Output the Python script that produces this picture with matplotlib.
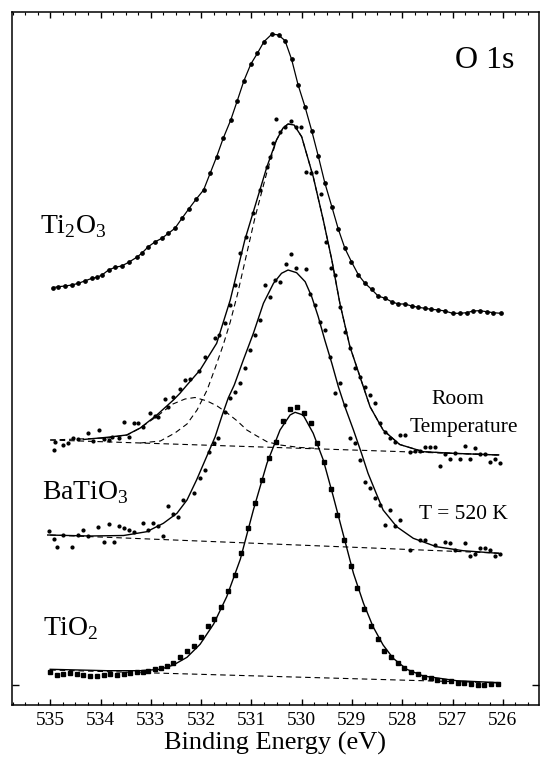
import matplotlib
matplotlib.use("Agg")
import matplotlib.pyplot as plt
from matplotlib.ticker import MultipleLocator, FixedLocator
import numpy as np

plt.rcParams['font.family'] = ['Liberation Serif', 'DejaVu Serif']
plt.rcParams['mathtext.fontset'] = 'custom'
plt.rcParams['mathtext.rm'] = 'Liberation Serif'

# ---------------- O 1s spectra (binding energy in eV, intensity in arb. units, offset) ----------------
# Ti2O3 measured spectrum
ti2o3_E = [534.95, 534.84, 534.70, 534.57, 534.44, 534.30, 534.17, 534.07, 533.97, 533.84,
           533.71, 533.58, 533.44, 533.28, 533.18, 533.05, 532.91, 532.78, 532.65, 532.52,
           532.38, 532.25, 532.10, 531.95, 531.82, 531.69, 531.56, 531.41, 531.28, 531.15,
           531.01, 530.88, 530.75, 530.59, 530.46, 530.33, 530.20, 530.07, 529.93, 529.80,
           529.67, 529.54, 529.40, 529.27, 529.14, 529.01, 528.87, 528.74, 528.61, 528.48,
           528.34, 528.21, 528.08, 527.95, 527.81, 527.68, 527.55, 527.42, 527.28, 527.15,
           527.00, 526.85, 526.72, 526.59, 526.46, 526.32, 526.19, 526.04]
ti2o3_I = [396.3, 397.3, 398.0, 399.0, 400.7, 403.3, 405.7, 406.7, 409.0, 414.0,
           416.7, 418.0, 421.7, 426.7, 430.7, 437.3, 442.3, 445.7, 450.7, 455.7,
           465.7, 474.7, 484.7, 494.0, 510.7, 527.3, 545.7, 564.0, 583.3, 603.0,
           620.0, 630.7, 642.3, 650.0, 649.0, 643.3, 624.7, 599.0, 576.7, 553.3,
           528.0, 501.3, 477.3, 454.7, 435.7, 422.3, 409.0, 400.7, 394.7, 388.0,
           385.7, 382.3, 380.0, 380.0, 378.0, 376.7, 375.7, 374.7, 374.0, 373.0,
           370.7, 370.7, 371.3, 373.0, 373.3, 372.3, 371.3, 370.7]

# BaTiO3, room temperature: data points
bto_rt_E = [534.93, 534.90, 534.74, 534.64, 534.54, 534.44, 534.24, 534.14, 534.02, 533.94,
            533.84, 533.77, 533.64, 533.54, 533.44, 533.34, 533.25, 533.15, 533.01, 532.91,
            532.85, 532.72, 532.65, 532.55, 532.42, 532.32, 532.22, 532.05, 531.92, 531.72,
            531.64, 531.52, 531.42, 531.32, 531.22, 531.11, 530.96, 530.83, 530.69, 530.63,
            530.56, 530.51, 530.43, 530.33, 530.21, 530.11, 530.01, 529.91, 529.81, 529.72,
            529.62, 529.52, 529.42, 529.34, 529.24, 529.14, 529.04, 528.94, 528.84, 528.74,
            528.64, 528.54, 528.44, 528.34, 528.24, 528.15, 528.05, 527.95, 527.85, 527.75,
            527.65, 527.55, 527.45, 527.35, 527.25, 527.15, 527.05, 526.95, 526.85, 526.75,
            526.65, 526.56, 526.46, 526.36, 526.26, 526.16, 526.06]
bto_rt_I = [234.0, 242.3, 239.0, 240.7, 245.7, 244.7, 251.3, 243.3, 254.0, 244.7,
            244.0, 246.7, 245.7, 262.3, 247.3, 260.7, 261.3, 257.3, 270.7, 268.0,
            266.7, 284.7, 277.3, 287.3, 294.7, 304.0, 304.7, 313.3, 326.7, 345.7,
            349.0, 360.7, 379.0, 399.0, 430.7, 447.3, 470.7, 494.0, 517.3, 527.3,
            540.7, 565.0, 552.3, 556.7, 563.5, 557.5, 557.3, 512.5, 510.7, 512.5,
            490.5, 442.3, 415.7, 409.0, 377.3, 352.3, 335.7, 316.5, 307.3, 297.3,
            289.0, 280.7, 260.7, 252.3, 245.7, 242.3, 249.0, 249.0, 232.3, 233.0,
            233.0, 237.3, 237.0, 237.0, 218.0, 230.0, 224.7, 231.0, 224.7, 237.7,
            224.7, 235.7, 230.3, 230.0, 222.0, 225.3, 221.5]

# BaTiO3, room temperature: total fit
bto_rt_fit_E = [534.34, 533.87, 533.48, 533.21, 532.88, 532.55, 532.42, 532.28, 532.02, 531.69,
                531.42, 531.13, 530.89, 530.69, 530.50, 530.37, 530.27, 530.15, 530.00, 529.77,
                529.57, 529.40, 529.24, 529.04, 528.84, 528.64, 528.38, 528.05, 527.58, 526.99,
                526.09]
bto_rt_fit_I = [244.5, 246.7, 249.0, 256.0, 269.0, 284.0, 290.7, 299.0, 314.0, 340.7,
                384.0, 444.0, 484.0, 517.3, 544.0, 556.0, 560.0, 559.0, 547.3, 507.3,
                464.0, 424.0, 380.7, 337.3, 307.3, 277.3, 254.0, 239.5, 232.3, 230.7,
                229.0]

# BaTiO3, room temperature: main (lattice oxygen) component, high-energy flank
bto_rt_main_E = [533.21, 532.81, 532.52, 532.28, 532.08, 531.88, 531.72, 531.56, 531.42, 531.28,
                 531.13, 530.93, 530.69, 530.50, 530.37, 530.27]
bto_rt_main_I = [241.0, 243.0, 251.0, 260.0, 274.0, 294.0, 316.0, 339.0, 362.0, 389.0,
                 422.0, 466.0, 512.0, 544.0, 556.0, 560.0]

# BaTiO3, room temperature: second (high binding energy) component
bto_rt_sec_E = [535.00, 533.87, 533.47, 533.21, 532.87, 532.56, 532.32, 532.12, 531.88, 531.68,
                531.48, 531.28, 531.09, 530.89, 530.69, 530.43, 530.03, 529.64]
bto_rt_sec_I = [244.0, 246.0, 249.0, 256.0, 268.0, 280.0, 285.0, 286.5, 283.0, 278.0,
                271.0, 263.0, 254.0, 248.0, 242.3, 239.0, 236.5, 235.5]

# BaTiO3, room temperature: background
bto_rt_bg_E = [535.0, 526.0]
bto_rt_bg_I = [244.0, 229.0]

# BaTiO3, T = 520 K: data points
bto_hot_E = [535.03, 534.93, 534.87, 534.74, 534.56, 534.44, 534.34, 534.24, 534.04, 533.94,
             533.84, 533.74, 533.64, 533.54, 533.44, 533.34, 533.15, 533.05, 532.95, 532.85,
             532.75, 532.65, 532.55, 532.45, 532.35, 532.14, 532.03, 531.93, 531.84, 531.74,
             531.66, 531.52, 531.42, 531.32, 531.22, 531.13, 531.03, 530.93, 530.83, 530.73,
             530.63, 530.53, 530.43, 530.32, 530.22, 530.12, 529.92, 529.83, 529.73, 529.64,
             529.54, 529.44, 529.34, 529.24, 529.14, 529.04, 528.94, 528.84, 528.74, 528.64,
             528.54, 528.44, 528.34, 528.24, 528.15, 528.05, 527.85, 527.65, 527.55, 527.35,
             527.15, 527.05, 526.95, 526.75, 526.65, 526.56, 526.46, 526.36, 526.26, 526.16,
             526.06]
bto_hot_I = [153.5, 145.2, 137.3, 149.0, 137.3, 149.5, 154.0, 147.7, 157.5, 142.0,
             160.3, 142.0, 158.0, 156.5, 154.0, 152.3, 161.0, 154.0, 161.0, 158.5,
             148.5, 178.0, 170.0, 167.0, 183.7, 191.3, 205.7, 214.0, 232.3, 240.7,
             245.7, 272.3, 286.0, 292.0, 300.7, 315.7, 334.0, 349.0, 364.0, 399.0,
             387.3, 403.7, 402.3, 420.5, 430.0, 416.2, 414.7, 390.0, 379.0, 362.0,
             354.0, 327.3, 291.5, 300.7, 279.5, 245.7, 240.7, 224.3, 202.3, 196.0,
             185.7, 179.0, 159.0, 174.0, 158.0, 164.3, 134.0, 144.0, 144.0, 139.5,
             142.0, 141.0, 134.5, 140.7, 128.5, 130.3, 135.7, 135.7, 134.0, 128.0,
             130.0]

# BaTiO3, T = 520 K: fit
bto_hot_fit_E = [535.05, 534.21, 533.54, 533.08, 532.75, 532.48, 532.28, 532.09, 531.89, 531.72,
                 531.59, 531.46, 531.34, 531.16, 530.96, 530.76, 530.56, 530.40, 530.27, 530.10,
                 529.93, 529.80, 529.67, 529.54, 529.40, 529.27, 529.14, 528.97, 528.81, 528.68,
                 528.52, 528.38, 528.11, 527.78, 527.32, 526.79, 526.09]
bto_hot_fit_I = [149.0, 148.0, 148.5, 152.3, 160.7, 170.7, 184.0, 204.0, 227.3, 247.3,
                 267.3, 286.0, 299.0, 324.0, 350.7, 380.7, 400.7, 410.7, 414.0, 411.3,
                 402.3, 387.3, 367.3, 344.0, 320.7, 297.3, 277.3, 254.0, 230.7, 210.7,
                 191.0, 174.0, 157.3, 145.7, 137.3, 133.3, 130.7]

# BaTiO3, T = 520 K: background
bto_hot_bg_E = [535.0, 526.0]
bto_hot_bg_I = [149.0, 130.7]

# TiO2 measured spectrum
tio2_E = [535.00, 534.87, 534.74, 534.60, 534.47, 534.34, 534.21, 534.07, 533.94, 533.81,
          533.67, 533.54, 533.41, 533.28, 533.15, 533.05, 532.91, 532.80, 532.68, 532.55,
          532.42, 532.28, 532.14, 532.00, 531.87, 531.74, 531.60, 531.47, 531.33, 531.20,
          531.06, 530.93, 530.79, 530.64, 530.51, 530.37, 530.23, 530.09, 529.95, 529.82,
          529.69, 529.56, 529.42, 529.29, 529.16, 529.02, 528.89, 528.76, 528.62, 528.49,
          528.36, 528.23, 528.09, 527.96, 527.83, 527.69, 527.56, 527.43, 527.30, 527.16,
          527.03, 526.90, 526.77, 526.63, 526.50, 526.37, 526.24, 526.10]
tio2_I = [12.3, 9.0, 10.0, 10.7, 10.0, 9.0, 8.3, 8.3, 9.0, 10.0,
          9.0, 10.0, 10.7, 11.7, 12.3, 13.3, 15.3, 16.3, 18.3, 21.3,
          26.7, 33.3, 38.0, 47.3, 58.0, 64.7, 76.7, 93.0, 109.0, 130.7,
          156.3, 181.3, 204.0, 225.7, 242.3, 263.3, 274.7, 276.7, 270.7, 260.7,
          241.3, 222.3, 194.7, 169.0, 144.0, 118.0, 95.7, 74.7, 58.0, 44.7,
          33.3, 26.7, 20.7, 16.3, 12.3, 9.7, 7.3, 5.7, 4.0, 3.3,
          3.0, 1.3, 0.7, 0.0, -1.0, -1.0, 0.0, 0.0]

# TiO2 fit
tio2_fit_E = [535.00, 533.87, 533.21, 532.81, 532.55, 532.28, 532.02, 531.75, 531.49, 531.22,
              530.96, 530.69, 530.43, 530.23, 530.13, 529.97, 529.77, 529.57, 529.37, 529.17,
              528.97, 528.77, 528.58, 528.38, 528.18, 527.91, 527.58, 526.92, 526.06]
tio2_fit_I = [14.7, 13.3, 13.3, 14.7, 19.0, 26.7, 39.7, 60.0, 87.3, 124.7,
              174.0, 220.7, 254.0, 269.0, 271.7, 269.0, 250.7, 224.0, 187.3, 149.0,
              110.7, 80.7, 57.3, 39.0, 25.7, 14.7, 8.0, 3.3, 1.3]

# TiO2 background
tio2_bg_E = [535.0, 526.0]
tio2_bg_I = [14.0, 1.0]

x_major = [535, 534, 533, 532, 531, 530, 529, 528, 527, 526]

# ---------------- figure ----------------
fig = plt.figure(figsize=(5.4, 7.62), dpi=100)
ax = fig.add_axes([12 / 540, 57 / 762, 527 / 540, 693 / 762])

dash = (5, 3.5)
k = 'black'

# Ti2O3
ax.plot(ti2o3_E, ti2o3_I, color=k, lw=0.9, marker='o', ms=2.4, mfc=k, mec=k)

# BaTiO3 room temperature
ax.plot(bto_rt_bg_E, bto_rt_bg_I, color=k, lw=0.8, dashes=dash)
ax.plot(bto_rt_sec_E, bto_rt_sec_I, color=k, lw=0.8, dashes=dash)
fit_E = np.array(bto_rt_fit_E)
fit_I = np.array(bto_rt_fit_I)
main_E = np.concatenate([bto_rt_main_E, fit_E[fit_E < 530.2]])
main_I = np.concatenate([bto_rt_main_I, fit_I[fit_E < 530.2]])
ax.plot(main_E, main_I, color=k, lw=0.8, dashes=dash)
ax.plot(bto_rt_fit_E, bto_rt_fit_I, color=k, lw=1.0)
ax.plot(bto_rt_E, bto_rt_I, ls='none', marker='o', ms=2.0, mfc=k, mec=k)

# BaTiO3 at 520 K
ax.plot(bto_hot_bg_E, bto_hot_bg_I, color=k, lw=0.8, dashes=dash)
ax.plot(bto_hot_fit_E, bto_hot_fit_I, color=k, lw=1.0)
ax.plot(bto_hot_E, bto_hot_I, ls='none', marker='o', ms=2.0, mfc=k, mec=k)

# TiO2
ax.plot(tio2_bg_E, tio2_bg_I, color=k, lw=0.8, dashes=dash)
ax.plot(tio2_fit_E, tio2_fit_I, color=k, lw=1.0)
ax.plot(tio2_E, tio2_I, ls='none', marker='s', ms=3.2, mfc=k, mec=k)

# axes
ax.set_xlim(535.76, 525.28)
ax.set_ylim(-21, 672)
ax.xaxis.set_major_locator(FixedLocator(x_major))
ax.xaxis.set_minor_locator(MultipleLocator(0.25))
ax.yaxis.set_major_locator(FixedLocator([-1]))
ax.yaxis.set_minor_locator(FixedLocator([]))
ax.tick_params(axis='x', which='both', direction='in', top=True, bottom=True)
ax.tick_params(axis='x', which='major', length=4, width=1.0, labelsize=14, pad=5)
ax.tick_params(axis='x', which='minor', length=2, width=0.8)
ax.tick_params(axis='y', which='both', direction='in', left=True, right=True,
               length=5, width=1.0, labelleft=False, labelright=False)
for s in ax.spines.values():
    s.set_linewidth(1.1)
ax.set_xlabel('Binding Energy (eV)', fontsize=19, labelpad=2)

# labels
ax.text(0.8406, 0.919, 'O 1s', transform=ax.transAxes, fontsize=23, ha='left', va='baseline')
ax.text(0.0531, 0.681, r'Ti$_{\mathregular{2}}$O$_{\mathregular{3}}$', transform=ax.transAxes,
        fontsize=20, ha='left', va='baseline')
ax.text(0.0569, 0.2973, r'BaTiO$_{\mathregular{3}}$', transform=ax.transAxes,
        fontsize=20, ha='left', va='baseline')
ax.text(0.0588, 0.101, r'TiO$_{\mathregular{2}}$', transform=ax.transAxes,
        fontsize=20, ha='left', va='baseline')
ax.text(0.846, 0.4343, 'Room', transform=ax.transAxes, fontsize=15.5, ha='center', va='baseline')
ax.text(0.8567, 0.3939, 'Temperature', transform=ax.transAxes, fontsize=15.5, ha='center', va='baseline')
ax.text(0.8567, 0.2684, 'T = 520 K', transform=ax.transAxes, fontsize=15.5, ha='center', va='baseline')

fig.savefig('out.png', dpi=100)
